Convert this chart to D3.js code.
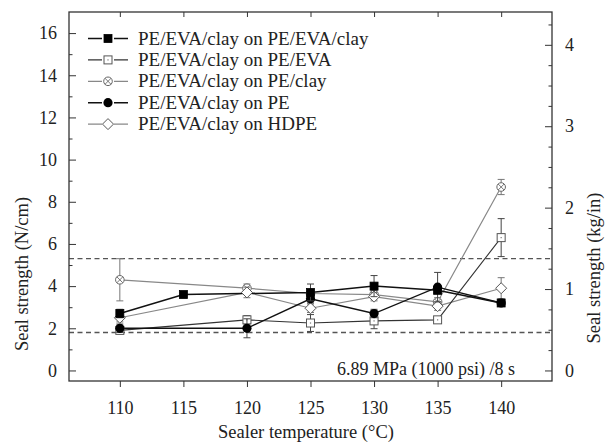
<!DOCTYPE html>
<html>
<head>
<meta charset="utf-8">
<script src="https://cdn.jsdelivr.net/npm/d3@7"></script>
</head>
<body style="margin:0">
<svg id="chart" width="606" height="445"></svg>
<script>
// Sealer temperature (°C) for each series
const tempFilledSq = [110, 115, 125, 130, 135, 140];
const tempOther    = [110, 120, 125, 130, 135, 140];

// Seal strength (N/cm) and standard deviations
const evaClayOnEvaClay = [2.7, 3.6, 3.7, 4.0, 3.8, 3.2];
const evaClayOnEvaClayErr = [0.2, 0.1, 0.4, 0.5, 0.15, 0.1];

const evaClayOnEva = [1.9, 2.4, 2.25, 2.35, 2.4, 6.3];
const evaClayOnEvaErr = [0.15, 0.2, 0.4, 0.37, 0.1, 0.9];

const evaClayOnPeClay = [4.3, 3.9, 3.65, 3.6, 3.25, 8.7];
const evaClayOnPeClayErr = [1.0, 0.2, 0.1, 0.2, 0.2, 0.36];

const evaClayOnPe = [2.0, 2.0, 3.4, 2.7, 3.95, 3.2];
const evaClayOnPeErr = [0.2, 0.45, 0.2, 0.2, 0.7, 0.1];

const evaClayOnHdpe = [2.5, 3.7, 2.95, 3.5, 3.05, 3.9];
const evaClayOnHdpeErr = [0.2, 0.25, 0.2, 0.2, 0.2, 0.5];

const seriesNames = [
  "PE/EVA/clay on PE/EVA/clay",
  "PE/EVA/clay on PE/EVA",
  "PE/EVA/clay on PE/clay",
  "PE/EVA/clay on PE",
  "PE/EVA/clay on HDPE"
];

// Reference band (N/cm)
const bandLevels = [5.3, 1.8];

const xTicks = [110, 115, 120, 125, 130, 135, 140];
const yTicks = [0, 2, 4, 6, 8, 10, 12, 14, 16];
const y2Ticks = [0, 1, 2, 3, 4];
const noteText = "6.89 MPa (1000 psi) /8 s";

// ---------------------------------------------------------------
const FONT = "Times New Roman";
const N_PER_KGIN = 9.80665 / 2.54;
const svg = d3.select("#chart");
const frame = { l: 69, t: 12, r: 552, b: 381 };
const x = d3.scaleLinear().domain([106, 144]).range([frame.l, frame.r]);
const y = d3.scaleLinear().domain([-0.5, 17]).range([frame.b, frame.t]);
const y2 = d3.scaleLinear().domain([-0.5 / N_PER_KGIN, 17 / N_PER_KGIN]).range([frame.b, frame.t]);

const axisColor = "#333";
const textColor = "#222";

// reference dashed lines
svg.append("g").selectAll("line").data(bandLevels).join("line")
  .attr("x1", frame.l).attr("x2", frame.r)
  .attr("y1", d => y(d)).attr("y2", d => y(d))
  .attr("stroke", "#555").attr("stroke-width", 1.3)
  .attr("stroke-dasharray", "5,3.5");

function styleAxis(g) {
  g.attr("font-family", null).attr("font-size", null);
  g.select(".domain").remove();
  g.selectAll(".tick line").attr("stroke", axisColor).attr("stroke-width", 1);
  g.selectAll(".tick text").attr("fill", textColor)
    .style("font-family", FONT).attr("font-size", 18);
}

// minor ticks
const yMinor = d3.range(1, 17, 2);
svg.append("g").attr("transform", `translate(${frame.l},0)`)
  .call(d3.axisLeft(y).tickValues(yMinor).tickSize(-3.5).tickFormat(""))
  .call(styleAxis);
const y2Minor = d3.range(0.25, 4.3, 0.25).filter(v => Math.abs(v - Math.round(v)) > 0.01);
svg.append("g").attr("transform", `translate(${frame.r},0)`)
  .call(d3.axisRight(y2).tickValues(y2Minor).tickSize(-3.5).tickFormat(""))
  .call(styleAxis);

// major axes
svg.append("g").attr("transform", `translate(${frame.l},0)`)
  .call(d3.axisLeft(y).tickValues(yTicks).tickSize(-7).tickPadding(12).tickFormat(d3.format("d")))
  .call(styleAxis);
svg.append("g").attr("transform", `translate(${frame.r},0)`)
  .call(d3.axisRight(y2).tickValues(y2Ticks).tickSize(-7).tickPadding(13).tickFormat(d3.format("d")))
  .call(styleAxis);
svg.append("g").attr("transform", `translate(0,${frame.b})`)
  .call(d3.axisBottom(x).tickValues(xTicks).tickSize(6).tickPadding(14).tickFormat(d3.format("d")))
  .call(styleAxis);
svg.append("g").attr("transform", `translate(0,${frame.t})`)
  .call(d3.axisTop(x).tickValues(xTicks).tickSize(-5).tickFormat(""))
  .call(styleAxis);

// frame
svg.append("rect")
  .attr("x", frame.l).attr("y", frame.t)
  .attr("width", frame.r - frame.l).attr("height", frame.b - frame.t)
  .attr("fill", "none").attr("stroke", axisColor).attr("stroke-width", 1.3);

// axis titles
function label(sel, size) {
  return sel.style("font-family", FONT).attr("font-size", size).attr("fill", textColor);
}
svg.append("text").call(label, 18.5)
  .attr("transform", "translate(28,274) rotate(-90)")
  .attr("text-anchor", "middle")
  .text("Seal strength (N/cm)");
svg.append("text").call(label, 18.5)
  .attr("transform", "translate(600,268) rotate(-90)")
  .attr("text-anchor", "middle")
  .text("Seal strength (kg/in)");
svg.append("text").call(label, 18.5)
  .attr("x", 306).attr("y", 438)
  .attr("text-anchor", "middle")
  .text("Sealer temperature (\u00B0C)");

// note
svg.append("text").call(label, 18)
  .attr("x", 515).attr("y", 375)
  .attr("text-anchor", "end")
  .text(noteText);

// ---------------------------------------------------------------
// marker painters
const markers = {
  filledSquare(g) {
    g.append("rect").attr("x", -4).attr("y", -4).attr("width", 8).attr("height", 8)
      .attr("fill", "#000").attr("stroke", "#000").attr("stroke-width", 0.8);
  },
  openSquare(g) {
    g.append("rect").attr("x", -4).attr("y", -4).attr("width", 8).attr("height", 8)
      .attr("fill", "#fff").attr("stroke", "#555").attr("stroke-width", 1);
    g.append("rect").attr("x", -0.6).attr("y", -0.6).attr("width", 1.2).attr("height", 1.2)
      .attr("fill", "#777");
  },
  crossCircle(g) {
    g.append("circle").attr("r", 4.3).attr("fill", "#fff").attr("stroke", "#666").attr("stroke-width", 1);
    g.append("path").attr("d", "M-3,-3L3,3M-3,3L3,-3")
      .attr("stroke", "#666").attr("stroke-width", 0.9);
  },
  filledCircle(g) {
    g.append("circle").attr("r", 4.6).attr("fill", "#000");
  },
  openDiamond(g) {
    g.append("path").attr("d", "M0,-5.5L5.5,0L0,5.5L-5.5,0Z")
      .attr("fill", "#fff").attr("stroke", "#555").attr("stroke-width", 1);
  }
};

const series = [
  { name: seriesNames[2], t: tempOther, v: evaClayOnPeClay, e: evaClayOnPeClayErr, line: "#888", lw: 1.2, mark: "crossCircle" },
  { name: seriesNames[4], t: tempOther, v: evaClayOnHdpe, e: evaClayOnHdpeErr, line: "#888", lw: 1.2, mark: "openDiamond" },
  { name: seriesNames[1], t: tempOther, v: evaClayOnEva, e: evaClayOnEvaErr, line: "#333", lw: 1.1, mark: "openSquare" },
  { name: seriesNames[3], t: tempOther, v: evaClayOnPe, e: evaClayOnPeErr, line: "#111", lw: 1.4, mark: "filledCircle" },
  { name: seriesNames[0], t: tempFilledSq, v: evaClayOnEvaClay, e: evaClayOnEvaClayErr, line: "#111", lw: 1.5, mark: "filledSquare" }
];

const lineGen = d3.line().x(d => x(d[0])).y(d => y(d[1]));

// lines
series.forEach(s => {
  const pts = s.t.map((t, i) => [t, s.v[i]]);
  svg.append("path").datum(pts)
    .attr("d", lineGen).attr("fill", "none")
    .attr("stroke", s.line).attr("stroke-width", s.lw);
});

// error bars + markers
series.forEach(s => {
  const pts = s.t.map((t, i) => ({ t, v: s.v[i], e: s.e[i] }));
  const col = s.line === "#888" ? "#777" : "#444";
  const eb = svg.append("g");
  pts.forEach(p => {
    const g = eb.append("g").attr("stroke", col).attr("stroke-width", 1);
    g.append("line").attr("x1", x(p.t)).attr("x2", x(p.t))
      .attr("y1", y(p.v - p.e)).attr("y2", y(p.v + p.e));
    [p.v - p.e, p.v + p.e].forEach(vv => {
      g.append("line").attr("x1", x(p.t) - 3.5).attr("x2", x(p.t) + 3.5)
        .attr("y1", y(vv)).attr("y2", y(vv));
    });
  });
  pts.forEach(p => {
    const g = svg.append("g").attr("transform", `translate(${x(p.t)},${y(p.v)})`);
    markers[s.mark](g);
  });
});

// legend
const legendOrder = [4, 2, 0, 3, 1]; // indices into series, top to bottom
const legend = svg.append("g");
legendOrder.forEach((si, i) => {
  const s = series[si];
  const cy = 38.5 + i * 21.4;
  legend.append("line").attr("x1", 88).attr("x2", 128).attr("y1", cy).attr("y2", cy)
    .attr("stroke", s.line).attr("stroke-width", s.lw);
  const g = legend.append("g").attr("transform", `translate(108,${cy})`);
  g.append("rect").attr("x", -6).attr("y", -6).attr("width", 12).attr("height", 12).attr("fill", "#fff");
  markers[s.mark](g);
  legend.append("text").call(label, 19).attr("x", 138).attr("y", cy + 6)
    .text(s.name);
});
</script>
</body>
</html>
